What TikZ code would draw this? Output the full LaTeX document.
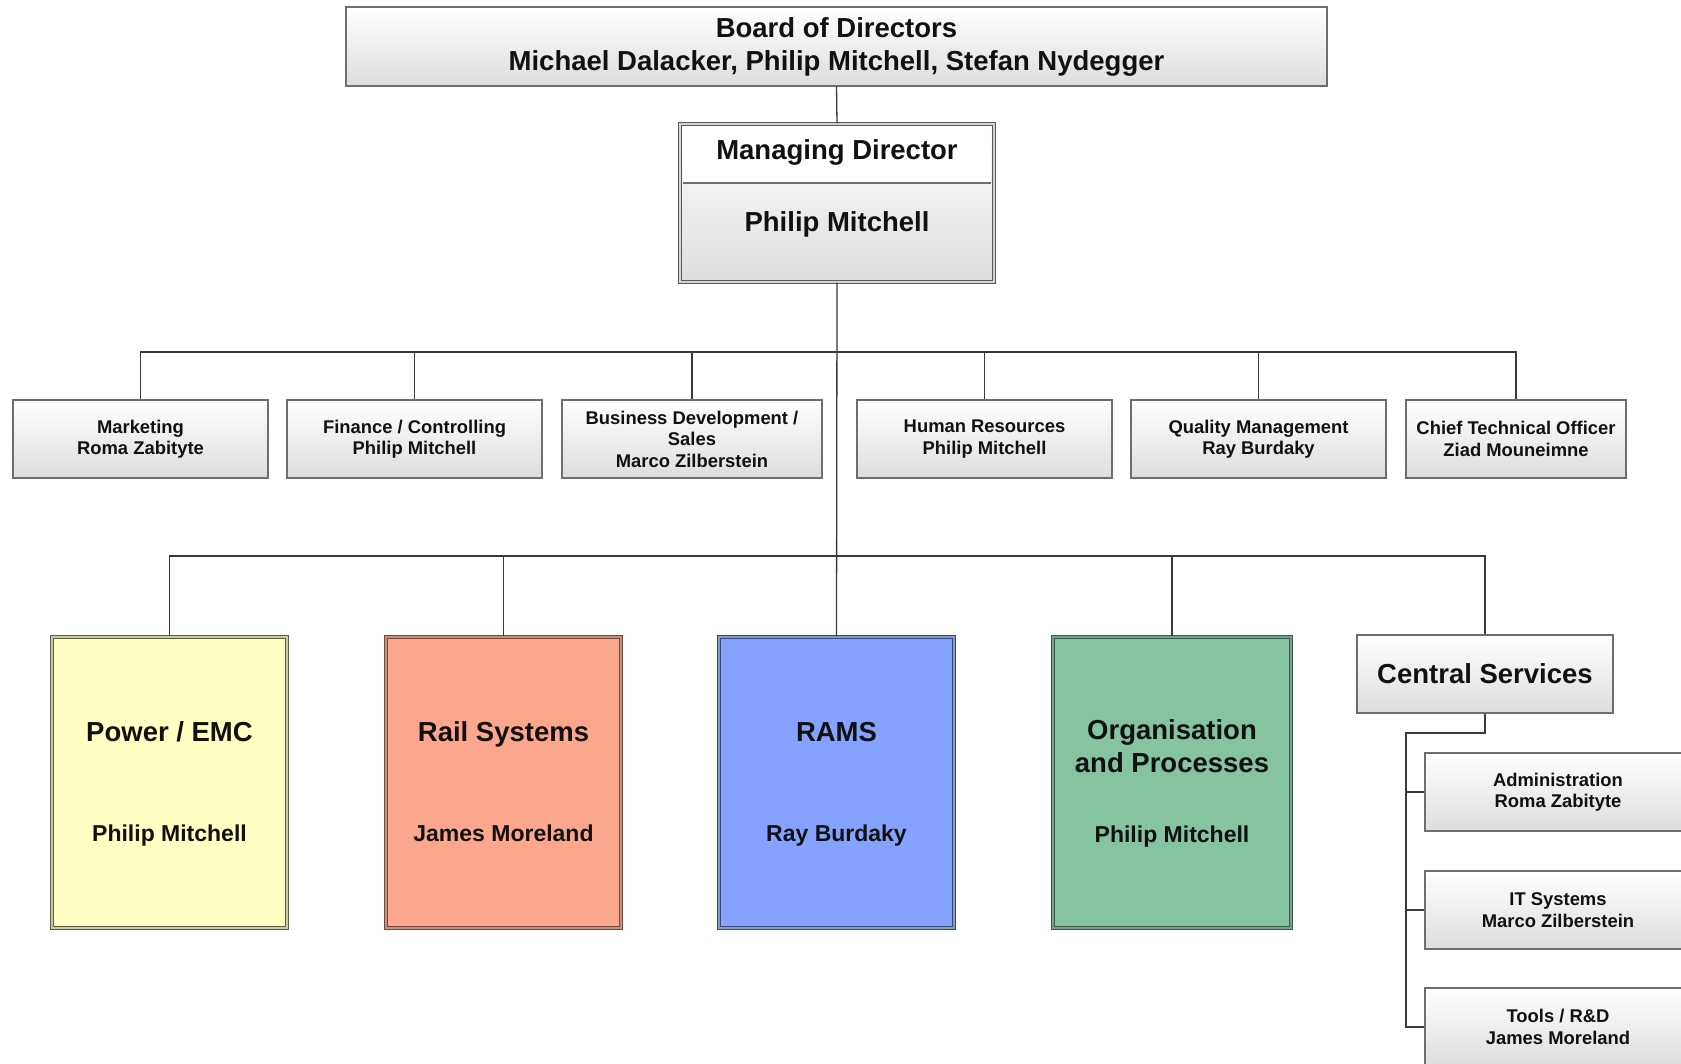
\documentclass[tikz,border=0pt]{standalone}
\usepackage{fontspec}
\setmainfont{Liberation Sans}
\definecolor{txt}{HTML}{111111}
\definecolor{connc}{HTML}{3A3A3A}
\definecolor{grayborder}{HTML}{6E6E6E}
\definecolor{boxbot}{HTML}{DDDDDD}
\definecolor{pwrfill}{HTML}{FFFFC4}
\definecolor{pwrline}{HTML}{5E5E48}
\definecolor{pwrgap}{HTML}{C9C9A6}
\definecolor{railfill}{HTML}{FBA78E}
\definecolor{railline}{HTML}{6A4C42}
\definecolor{railgap}{HTML}{C98F7C}
\definecolor{ramsfill}{HTML}{86A2FF}
\definecolor{ramsline}{HTML}{3E4A6E}
\definecolor{ramsgap}{HTML}{8A98C4}
\definecolor{orgfill}{HTML}{86C3A1}
\definecolor{orgline}{HTML}{3F5A4B}
\definecolor{orggap}{HTML}{78A08A}
\definecolor{mdline}{HTML}{5A5A5A}
\definecolor{mdgap}{HTML}{D4D4D4}
\newcommand{\bigfont}{\bfseries\fontsize{27.5}{33}\selectfont}
\newcommand{\namefont}{\bfseries\fontsize{23}{27}\selectfont}
\newcommand{\stafffont}{\bfseries\fontsize{18.4}{21.5}\selectfont}
\begin{document}
\begin{tikzpicture}[x=1pt,y=-1pt,
  conn/.style={draw=connc, line width=1.3pt},
  graybox/.style={draw=grayborder, line width=1.2pt, top color=white, bottom color=boxbot,
    minimum height=78pt, inner sep=0pt, align=center, font=\stafffont, text=txt},
  boardbox/.style={graybox, font=\bigfont},
  bigbox/.style n args={3}{draw=#1, double=#2, double distance=2.5pt, line width=1.1pt,
    fill=#3, minimum width=235pt, minimum height=291pt, inner sep=0pt},
  mdbox/.style={draw=mdline, double=mdgap, double distance=2.5pt, line width=1.1pt,
    top color=white, bottom color=boxbot, minimum width=314pt, minimum height=158pt, inner sep=0pt},
  bigtext/.style={inner sep=0pt, anchor=base, align=center, font=\bigfont, text=txt},
  nametext/.style={inner sep=0pt, anchor=base, align=center, font=\namefont, text=txt}
]
\useasboundingbox (0,0) rectangle (1681,1063);
\clip (0,0) rectangle (1681,1063);
\fill[white] (0,0) rectangle (1681,1063);

% Board
\node[boardbox, minimum width=981pt, minimum height=79pt] (board) at (836.5,46.5)
  {Board of Directors\\Michael Dalacker, Philip Mitchell, Stefan Nydegger};

% Managing director
\node[mdbox] (md) at (837,203) {};
\fill[white] (683,127) rectangle (991,183);
\draw[grayborder, line width=1.2pt] (683,183) -- (991,183);
\node[bigtext] (mdtitle) at (837,159) {Managing Director};
\node[bigtext] (mdname) at (837,231) {Philip Mitchell};

% Staff functions
\node[graybox, minimum width=255pt] (mkt) at (140.5,439) {Marketing\\Roma Zabityte};
\node[graybox, minimum width=255pt] (fin) at (414.5,439) {Finance / Controlling\\Philip Mitchell};
\node[graybox, minimum width=260pt] (biz) at (692,439) {Business Development /\\Sales\\Marco Zilberstein};
\node[graybox, minimum width=255pt] (hr) at (984.5,439) {Human Resources\\Philip Mitchell};
\node[graybox, minimum width=255pt] (qm) at (1258.5,439) {Quality Management\\Ray Burdaky};
\node[graybox, minimum width=220pt] (cto) at (1516,439) {Chief Technical Officer\\Ziad Mouneimne};

% Divisions
\node[bigbox={pwrline}{pwrgap}{pwrfill}] (pwr) at (169.5,782.5) {};
\node[bigbox={railline}{railgap}{railfill}] (rail) at (503.5,782.5) {};
\node[bigbox={ramsline}{ramsgap}{ramsfill}] (rams) at (836.5,782.5) {};
\node[bigbox={orgline}{orggap}{orgfill}, minimum width=238pt] (org) at (1172,782.5) {};

\node[bigtext] (pwrtitle) at (169.5,741) {Power / EMC};
\node[nametext] (pwrname) at (169.5,841.5) {Philip Mitchell};
\node[bigtext] (railtitle) at (503.5,741) {Rail Systems};
\node[nametext] (railname) at (503.5,841.5) {James Moreland};
\node[bigtext] (ramstitle) at (836.5,741) {RAMS};
\node[nametext] (ramsname) at (836.5,841.5) {Ray Burdaky};
\node[bigtext] (orgtitle) at (1172,739) {Organisation};
\node[bigtext] (orgtitle2) at (1172,772) {and Processes};
\node[nametext] (orgname) at (1172,842) {Philip Mitchell};

% Central services
\node[graybox, font=\bigfont, minimum width=256pt, minimum height=78pt] (cs) at (1485,674) {Central Services};
\node[graybox, minimum width=266pt] (adm) at (1558,792) {Administration\\Roma Zabityte};
\node[graybox, minimum width=266pt] (its) at (1558,910) {IT Systems\\Marco Zilberstein};
\node[graybox, minimum width=266pt] (tools) at (1558,1027) {Tools / R\&D\\James Moreland};

% Connectors
\coordinate (bus1) at (837,352);
\coordinate (bus2) at (837,556);
\coordinate (cselb) at (1406,733);
\draw[conn] (board.south) -- (md.north);
\draw[conn] (md.south) -- (rams.north);
\foreach \n in {mkt,fin,biz,hr,qm,cto} {
  \draw[conn] (\n.north) |- (bus1);
}
\foreach \n in {pwr,rail,org,cs} {
  \draw[conn] (\n.north) |- (bus2);
}
\draw[conn] (cs.south) |- (cselb) -- (cselb |- tools.west) -- (tools.west);
\draw[conn] (cselb |- adm.west) -- (adm.west);
\draw[conn] (cselb |- its.west) -- (its.west);
\end{tikzpicture}
\end{document}
